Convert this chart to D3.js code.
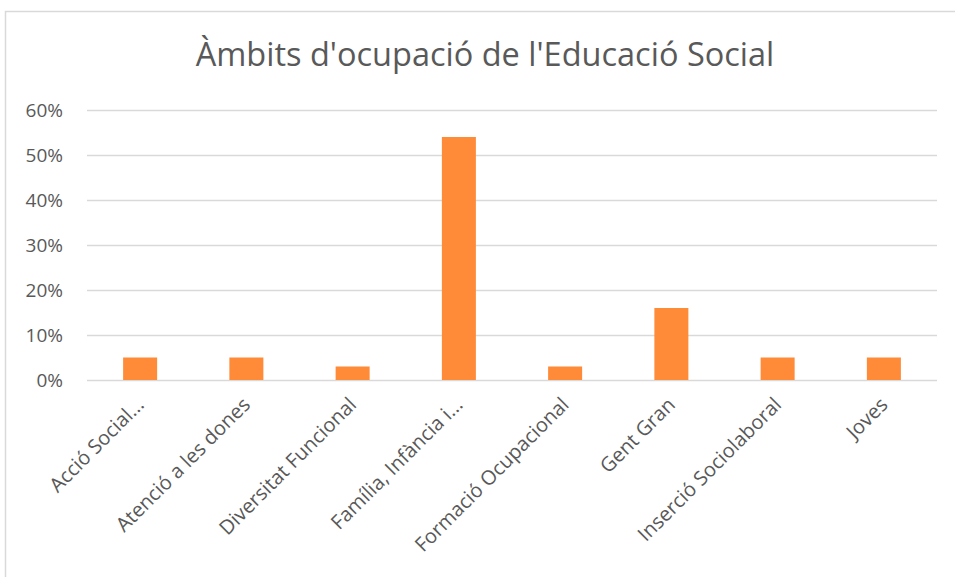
<!DOCTYPE html>
<html><head><meta charset="utf-8">
<script src="https://cdn.jsdelivr.net/npm/d3@7"></script>
<style>body{margin:0;background:#fff}svg{display:block}</style>
</head><body>
<svg id="c" width="955" height="577"></svg>
<script>
const categories = ["Acció Social...", "Atenció a les dones", "Diversitat Funcional", "Família, Infància i...", "Formació Ocupacional", "Gent Gran", "Inserció Sociolaboral", "Joves"];
const values = [0.05, 0.05, 0.03, 0.54, 0.03, 0.16, 0.05, 0.05];
const yTicks = [0, 0.1, 0.2, 0.3, 0.4, 0.5, 0.6];
const title = "Àmbits d'ocupació de l'Educació Social";

const svg = d3.select("#c");
const W = 955, H = 577;
const m = {left: 87, right: 18, top: 110, bottom: 197};
const font = "'Open Sans', sans-serif";

svg.append("rect").attr("x", 5.5).attr("y", 11.5).attr("width", 960).attr("height", 600)
  .attr("fill", "#fff").attr("stroke", "#d9d9d9").attr("stroke-width", 1.5);

svg.append("text").attr("x", 485).attr("y", 66).attr("text-anchor", "middle")
  .attr("font-family", font).attr("font-size", 32.5).attr("fill", "#595959").text(title);

const x = d3.scaleBand().domain(categories).range([m.left, W - m.right]).padding(0);
const y = d3.scaleLinear().domain([0, 0.6]).range([H - m.bottom, m.top]);

const g = svg.append("g");
g.selectAll("line.grid").data(yTicks).join("line").attr("class", "grid")
  .attr("x1", m.left).attr("x2", W - m.right)
  .attr("y1", d => Math.round(y(d)) + 0.5).attr("y2", d => Math.round(y(d)) + 0.5)
  .attr("stroke", "#d9d9d9").attr("stroke-width", 1.3);

const yAxis = d3.axisLeft(y).tickValues(yTicks).tickFormat(d3.format(".0%")).tickSize(0).tickPadding(0);
const ya = svg.append("g").attr("transform", `translate(${m.left - 24},0)`).call(yAxis);
ya.select(".domain").remove();
ya.selectAll("text").attr("font-family", font).attr("font-size", 19).attr("fill", "#595959");

const bw = x.bandwidth() * 0.32;
g.selectAll("rect.bar").data(values).join("rect").attr("class", "bar")
  .attr("x", (d, i) => x(categories[i]) + x.bandwidth() / 2 - bw / 2)
  .attr("width", bw)
  .attr("y", d => y(d)).attr("height", d => y(0) - y(d))
  .attr("fill", "#FF8A37");

const xAxis = d3.axisBottom(x).tickSize(0).tickPadding(0);
const xa = svg.append("g").attr("transform", `translate(0,${y(0)})`).call(xAxis);
xa.select(".domain").remove();
xa.selectAll("text").attr("font-family", font).attr("font-size", 20).attr("fill", "#595959")
  .attr("text-anchor", "end").attr("dy", null).attr("y", 0)
  .attr("transform", "translate(5,26) rotate(-45)");
</script>
</body></html>
